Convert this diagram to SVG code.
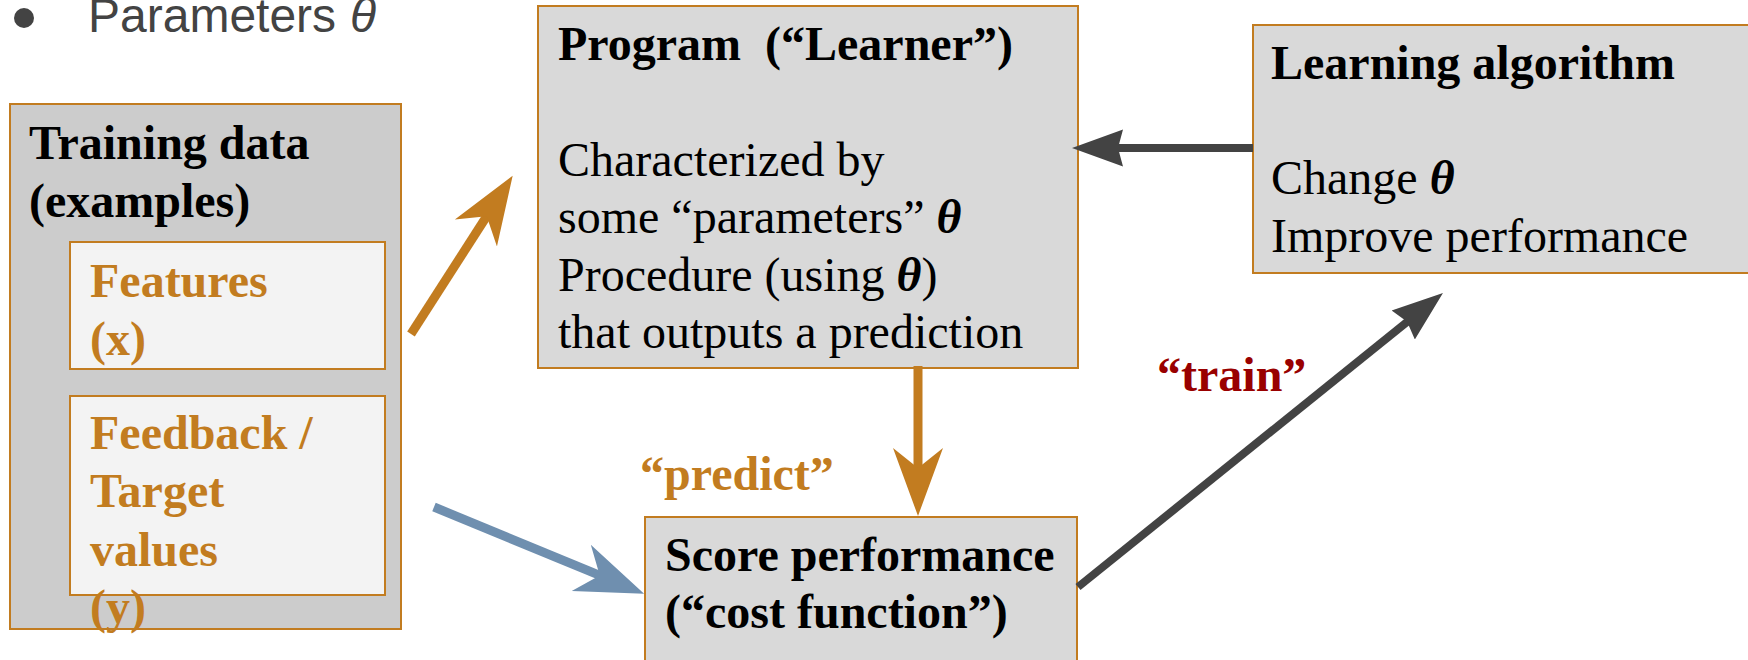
<svg xmlns="http://www.w3.org/2000/svg" width="1748" height="660" viewBox="0 0 1748 660">
  <style>
    .box { stroke: #c27c20; stroke-width: 2; }
    .outer { fill: #cccccc; }
    .inner { fill: #f3f3f3; }
    .gray { fill: #d9d9d9; }
    .t { font-family: "Liberation Serif", "Times New Roman", serif; font-size: 48px; fill: #000000; }
    .b { font-weight: bold; }
    .th { font-weight: bold; font-style: italic; }
    .orange { fill: #c27c20; }
    .red { fill: #990000; }
    .sans { font-family: "Liberation Sans", Arial, sans-serif; font-size: 48px; fill: #434343; }
    .shaft-o { stroke: #c27c20; stroke-width: 9; fill: none; }
    .shaft-b { stroke: #6f8faf; stroke-width: 9; fill: none; }
    .shaft-g { stroke: #434343; stroke-width: 8; fill: none; }
  </style>
  <defs>
    <marker id="headOrange" viewBox="0 -26 70 52" refX="22" refY="0" markerWidth="70" markerHeight="52" markerUnits="userSpaceOnUse" orient="auto">
      <path d="M0,-25 L68,0 L0,25 L20,0 Z" fill="#c27c20"/>
    </marker>
    <marker id="headBlue" viewBox="0 -26 70 52" refX="22" refY="0" markerWidth="70" markerHeight="52" markerUnits="userSpaceOnUse" orient="auto">
      <path d="M0,-25 L68,0 L0,25 L20,0 Z" fill="#6f8faf"/>
    </marker>
    <marker id="headGray" viewBox="0 -20 52 40" refX="7" refY="0" markerWidth="52" markerHeight="40" markerUnits="userSpaceOnUse" orient="auto">
      <path d="M0,-18.5 L51,0 L0,18.5 L5,0 Z" fill="#434343"/>
    </marker>
  </defs>

  <rect x="0" y="0" width="1748" height="660" fill="#ffffff"/>

  <g id="heading">
    <circle cx="24" cy="18" r="10" fill="#434343"/>
    <text class="sans" x="88" y="32">Parameters<tspan x="350" font-style="italic">θ</tspan></text>
  </g>

  <g id="training-data">
    <rect class="box outer" x="10" y="104" width="391" height="525"/>
    <text class="t b" x="29" y="159">Training data</text>
    <text class="t b" x="29" y="217">(examples)</text>
  </g>

  <g id="features">
    <rect class="box inner" x="70" y="242" width="315" height="127"/>
    <text class="t b orange" x="90" y="297">Features</text>
    <text class="t b orange" x="90" y="355">(x)</text>
  </g>

  <g id="feedback">
    <rect class="box inner" x="70" y="396" width="315" height="199"/>
    <text class="t b orange" x="90" y="449">Feedback /</text>
    <text class="t b orange" x="90" y="507">Target</text>
    <text class="t b orange" x="90" y="566">values</text>
    <text class="t b orange" x="90" y="623">(y)</text>
  </g>

  <g id="program">
    <rect class="box gray" x="538" y="6" width="540" height="362"/>
    <text class="t b" x="558" y="60">Program&#160; (“Learner”)</text>
    <text class="t" x="558" y="176">Characterized by</text>
    <text class="t" x="558" y="233">some “parameters” <tspan class="th">θ</tspan></text>
    <text class="t" x="558" y="291">Procedure (using <tspan class="th">θ</tspan>)</text>
    <text class="t" x="558" y="348">that outputs a prediction</text>
  </g>

  <g id="learning-algorithm">
    <rect class="box gray" x="1253" y="25" width="520" height="248"/>
    <text class="t b" x="1271" y="79">Learning algorithm</text>
    <text class="t" x="1271" y="194">Change <tspan class="th">θ</tspan></text>
    <text class="t" x="1271" y="252">Improve performance</text>
  </g>

  <g id="score-performance">
    <rect class="box gray" x="645" y="517" width="432" height="160"/>
    <text class="t b" x="665" y="571">Score performance</text>
    <text class="t b" x="665" y="628">(“cost function”)</text>
  </g>

  <g id="connectors">
    <line class="shaft-o" x1="411" y1="334" x2="487.8" y2="214.5" marker-end="url(#headOrange)"/>
    <line class="shaft-o" x1="918" y1="366" x2="918" y2="470" marker-end="url(#headOrange)"/>
    <line class="shaft-b" x1="434" y1="507" x2="601.6" y2="576.2" marker-end="url(#headBlue)"/>
    <line class="shaft-g" x1="1253" y1="148" x2="1116" y2="148" marker-end="url(#headGray)"/>
    <line class="shaft-g" x1="1078" y1="587" x2="1408.7" y2="320.6" marker-end="url(#headGray)"/>
    <text class="t b orange" x="640" y="490">“predict”</text>
    <text class="t b red" x="1157" y="391">“train”</text>
  </g>
</svg>
